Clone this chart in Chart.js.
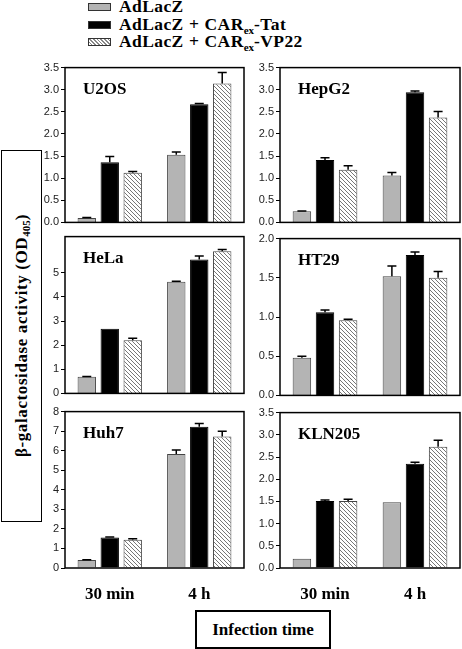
<!DOCTYPE html>
<html>
<head>
<meta charset="utf-8">
<script src="https://cdn.jsdelivr.net/npm/chart.js@4/dist/chart.umd.min.js"></script>
<style>
  body { margin: 0; background: #fff; width: 462px; height: 649px; position: relative; overflow: hidden; }
  .serif { font-family: "Liberation Serif", "Times New Roman", serif; font-weight: bold; color: #000; }
  #legend { position: absolute; left: 88px; top: -2px; font-size: 17.5px; letter-spacing: 0.4px; word-spacing: 0.5px; }
  #legend .row { height: 17.5px; line-height: 17.5px; white-space: nowrap; }
  #legend .sw { display: inline-block; width: 21px; height: 6px; border: 1px solid #333; margin-right: 8px; vertical-align: 1px; }
  sub { font-size: 11px; vertical-align: -4px; line-height: 0; letter-spacing: 0; }
  .panel { position: absolute; }
  #ylab { position: absolute; left: 1px; top: 150px; width: 39px; height: 370px; border: 1.5px solid #000;
          display: flex; align-items: center; justify-content: center; font-size: 17px; letter-spacing: 0.6px; }
  #ylab span { writing-mode: vertical-rl; transform: rotate(180deg); white-space: nowrap; }
  #xlab { position: absolute; left: 195px; top: 610px; width: 132px; height: 35px; border: 2px solid #000;
          display: flex; align-items: center; justify-content: center; font-size: 17px; }
</style>
</head>
<body>
<div id="legend" class="serif"></div>
<div id="ylab" class="serif"><span>β-galactosidase activity (OD<sub>405</sub>)</span></div>
<div id="xlab" class="serif">Infection time</div>

<script>
// categories and series
const categories = ['30 min', '4 h'];
const seriesNames = ['AdLacZ', 'AdLacZ + CAR<sub>ex</sub>-Tat', 'AdLacZ + CAR<sub>ex</sub>-VP22'];
const panelNames = ['U2OS', 'HepG2', 'HeLa', 'HT29', 'Huh7', 'KLN205'];

// values: [series][category]  (AdLacZ, +Tat, +VP22) x (30 min, 4 h)
const u2os = [[0.10, 1.53], [1.36, 2.67], [1.12, 3.14]];
const u2osErr = [[0.01, 0.06], [0.13, 0.02], [0.03, 0.25]];
const hepg2 = [[0.25, 1.06], [1.41, 2.94], [1.19, 2.37]];
const hepg2Err = [[0.01, 0.07], [0.05, 0.03], [0.09, 0.14]];
const hela = [[0.69, 4.63], [2.68, 5.55], [2.20, 5.89]];
const helaErr = [[0.01, 0.02], [0.0, 0.15], [0.09, 0.08]];
const ht29 = [[0.48, 1.52], [1.06, 1.79], [0.96, 1.50]];
const ht29Err = [[0.02, 0.13], [0.03, 0.04], [0.01, 0.08]];
const huh7 = [[0.41, 5.83], [1.56, 7.22], [1.44, 6.73]];
const huh7Err = [[0.01, 0.20], [0.02, 0.17], [0.05, 0.27]];
const kln205 = [[0.21, 1.48], [1.51, 2.35], [1.51, 2.73]];
const kln205Err = [[0.0, 0.0], [0.02, 0.03], [0.04, 0.15]];

// y axis ranges: max, step, last labelled tick
const yMax = [3.5, 3.5, 6.5, 2.0, 8, 3.5];
const yStep = [0.5, 0.5, 1, 0.5, 1, 0.5];
const yTickMax = [3.5, 3.5, 6, 2.0, 8, 3.5];

const allValues = [u2os, hepg2, hela, ht29, huh7, kln205];
const allErrors = [u2osErr, hepg2Err, helaErr, ht29Err, huh7Err, kln205Err];

// plot-area layout (left, top, width, height, has x labels)
const layout = [
  [65, 67, 179, 156, false],
  [280, 67, 180, 156, false],
  [65, 236, 179, 158, false],
  [280, 238, 180, 158, false],
  [65, 411, 179, 157, true],
  [280, 412, 180, 156, true]
];

Chart.defaults.font.family = '"Liberation Sans", Arial, sans-serif';
Chart.defaults.font.size = 11;
Chart.defaults.color = '#222';
Chart.defaults.animation = false;

function hatchPattern() {
  const c = document.createElement('canvas');
  c.width = 4; c.height = 4;
  const g = c.getContext('2d');
  g.fillStyle = '#fff';
  g.fillRect(0, 0, 4, 4);
  g.strokeStyle = '#777';
  g.lineWidth = 1;
  g.beginPath();
  g.moveTo(-1, -1); g.lineTo(5, 5);
  g.moveTo(-1, 3); g.lineTo(1, 5);
  g.moveTo(3, -1); g.lineTo(5, 1);
  g.stroke();
  return g.createPattern(c, 'repeat');
}

const fills = ['#b4b4b4', '#000000', hatchPattern()];
const borders = ['#444', '#000', '#444'];

// legend (html)
const legendEl = document.getElementById('legend');
seriesNames.forEach((name, i) => {
  const sw = i === 2
    ? 'background: repeating-linear-gradient(45deg, #fff 0 1.6px, #888 1.6px 2.6px);'
    : 'background:' + fills[i] + ';';
  legendEl.innerHTML += `<div class="row"><span class="sw" style="${sw}"></span>${name}</div>`;
});

const boxPlugin = {
  id: 'box',
  afterDatasetsDraw(chart, args, opts) {
    const ctx = chart.ctx, a = chart.chartArea;
    const y = chart.scales.y;
    // error bars (upper only)
    const errs = opts.errors;
    chart.data.datasets.forEach((ds, i) => {
      const meta = chart.getDatasetMeta(i);
      meta.data.forEach((bar, j) => {
        const e = errs[i][j];
        if (!e) return;
        const yTop = y.getPixelForValue(ds.data[j] + e);
        ctx.save();
        ctx.strokeStyle = '#000';
        ctx.lineWidth = 1.5;
        ctx.beginPath();
        ctx.moveTo(bar.x, bar.y);
        ctx.lineTo(bar.x, yTop);
        ctx.moveTo(bar.x - 4.5, yTop);
        ctx.lineTo(bar.x + 4.5, yTop);
        ctx.stroke();
        ctx.restore();
      });
    });
    // frame
    ctx.save();
    ctx.strokeStyle = '#000';
    ctx.lineWidth = 1.5;
    ctx.strokeRect(a.left, a.top, a.right - a.left, a.bottom - a.top);
    // panel title
    ctx.font = 'bold 17px "Liberation Serif", "Times New Roman", serif';
    ctx.fillStyle = '#000';
    ctx.textBaseline = 'alphabetic';
    ctx.fillText(opts.title, a.left + 18, a.top + 26);
    ctx.restore();
  }
};

panelNames.forEach((name, p) => {
  const [L, T, W, H, xLabels] = layout[p];
  const padTop = 8, padBottom = xLabels ? 0 : 8, axisW = 30, xAxisH = xLabels ? 36 : 0;
  const cv = document.createElement('canvas');
  const cw = W + axisW + 2, ch = H + padTop + padBottom + xAxisH;
  cv.width = cw; cv.height = ch;
  cv.className = 'panel';
  cv.style.left = (L - axisW) + 'px';
  cv.style.top = (T - padTop) + 'px';
  cv.style.width = cw + 'px';
  cv.style.height = ch + 'px';
  document.body.appendChild(cv);

  const vals = allValues[p];
  const dec = yStep[p] < 1 ? 1 : 0;
  new Chart(cv, {
    type: 'bar',
    data: {
      labels: categories,
      datasets: vals.map((d, i) => ({
        label: seriesNames[i],
        data: d,
        backgroundColor: fills[i],
        borderColor: borders[i],
        borderWidth: 1,
        categoryPercentage: 0.77,
        barPercentage: 0.8
      }))
    },
    options: {
      responsive: false,
      devicePixelRatio: 1,
      layout: { padding: { top: padTop, bottom: padBottom, left: 0, right: 2 } },
      plugins: {
        legend: { display: false },
        tooltip: { enabled: false },
        box: { title: name, errors: allErrors[p] }
      },
      scales: {
        x: {
          grid: { display: false, drawTicks: false },
          border: { display: false },
          ticks: {
            display: xLabels,
            padding: 16,
            maxRotation: 0,
            color: '#000',
            font: { family: '"Liberation Serif", "Times New Roman", serif', weight: 'bold', size: 17 }
          },
          afterFit(s) { s.height = xAxisH; }
        },
        y: {
          min: 0,
          max: yMax[p],
          border: { display: false },
          grid: { drawOnChartArea: false, drawTicks: true, tickLength: 4, color: '#000', lineWidth: 1 },
          ticks: {
            stepSize: yStep[p],
            padding: 2,
            callback: v => Number(v).toFixed(dec)
          },
          afterBuildTicks(s) { s.ticks = s.ticks.filter(t => t.value <= yTickMax[p] + 1e-9); },
          afterFit(s) { s.width = axisW; }
        }
      }
    },
    plugins: [boxPlugin]
  });
});
</script>
</body>
</html>
